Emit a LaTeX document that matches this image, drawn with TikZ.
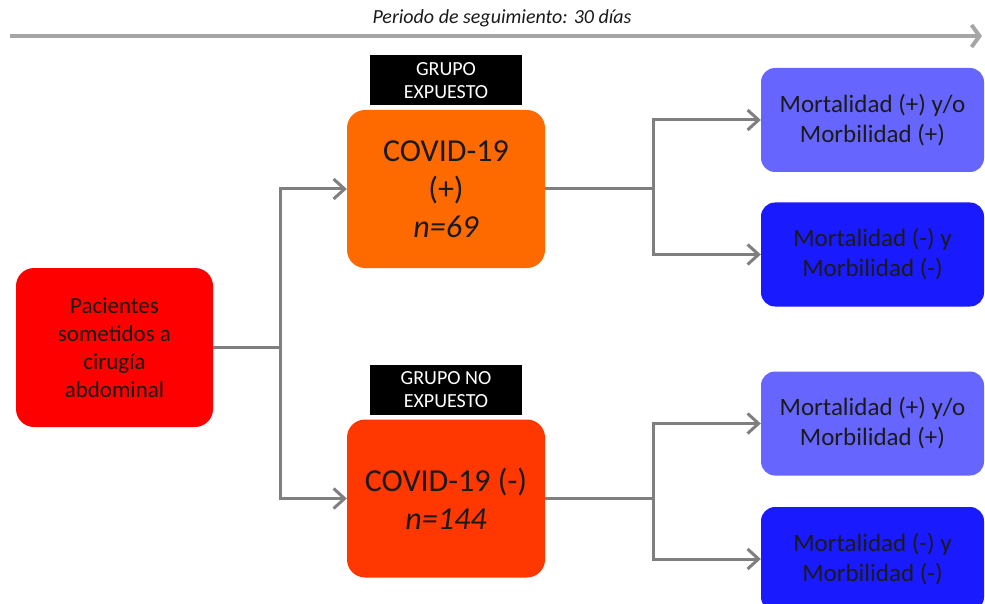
\documentclass[tikz,border=0pt]{standalone}
\usepackage{fontspec}
\setmainfont{Carlito}
\usetikzlibrary{arrows.meta}
\definecolor{conn}{HTML}{7F7F7F}
\definecolor{topline}{HTML}{A6A6A6}
\definecolor{pacred}{HTML}{FF0000}
\definecolor{posorange}{HTML}{FF6A00}
\definecolor{negorange}{HTML}{FF3700}
\definecolor{lightblue}{HTML}{6666FF}
\definecolor{darkblue}{HTML}{1A1AFF}
\definecolor{txt}{HTML}{1A1A1A}
\tikzset{
  box/.style={rounded corners=18pt, inner sep=0pt, align=center, text=txt},
  pacbox/.style={box, fill=pacred, minimum width=197pt, minimum height=159pt, font=\fontsize{23}{28}\selectfont},
  covbox/.style={box, minimum width=198pt, minimum height=158pt, font=\fontsize{32}{38}\selectfont},
  outbox/.style={box, rounded corners=14pt, minimum width=223pt, minimum height=104pt, font=\fontsize{25}{30}\selectfont},
  tag/.style={fill=black, text=white, inner sep=0pt, minimum width=152pt, minimum height=50pt, align=center, font=\fontsize{20}{23}\selectfont},
  link/.style={draw=conn, line width=3pt, -{Straight Barb[length=11pt,width=20pt,line width=3pt]}},
  plain/.style={draw=conn, line width=3pt},
}
\begin{document}
\begin{tikzpicture}[x=1pt,y=-1pt]
\useasboundingbox (0,0) rectangle (985,604);
\clip (0,0) rectangle (985,604);
% top timeline
\node[font=\itshape\fontsize{20}{22}\selectfont, text=txt] (title) at (502,18) {Periodo de seguimiento: 30 días};
\coordinate (tl0) at (10,36);
\coordinate (tl1) at (982,36);
\draw[draw=topline, line width=4pt, -{Straight Barb[length=8pt,width=22pt,line width=4pt]}] (tl0) -- (tl1);
% boxes
\node[pacbox] (pac) at (114.5,347.5) {Pacientes\\sometidos a\\cirugía\\abdominal};
\node[covbox, fill=posorange] (cpos) at (446,189) {COVID-19\\(+)\\\textit{n=69}};
\node[covbox, fill=negorange] (cneg) at (446,498.5) {COVID-19 (-)\\\textit{n=144}};
\node[tag] (tpos) at (446,80.5) {GRUPO\\EXPUESTO};
\node[tag] (tneg) at (446,389.5) {GRUPO NO\\EXPUESTO};
\node[outbox, fill=lightblue] (o1) at (872.5,120) {Mortalidad (+) y/o\\Morbilidad (+)};
\node[outbox, fill=darkblue] (o2) at (872.5,254.5) {Mortalidad (-) y\\Morbilidad (-)};
\node[outbox, fill=lightblue] (o3) at (872.5,423.5) {Mortalidad (+) y/o\\Morbilidad (+)};
\node[outbox, fill=darkblue] (o4) at (872.5,559) {Mortalidad (-) y\\Morbilidad (-)};
% connectors
\coordinate (j1) at (280,347.5);
\coordinate (j2) at (653,189);
\coordinate (j3) at (653,498.5);
\draw[plain] (pac.east) -- (j1);
\draw[link] (j1) |- (cpos.west);
\draw[link] (j1) |- (cneg.west);
\draw[plain] (cpos.east) -- (j2);
\draw[link] (j2) |- (o1.west);
\draw[link] (j2) |- (o2.west);
\draw[plain] (cneg.east) -- (j3);
\draw[link] (j3) |- (o3.west);
\draw[link] (j3) |- (o4.west);
\end{tikzpicture}
\end{document}
